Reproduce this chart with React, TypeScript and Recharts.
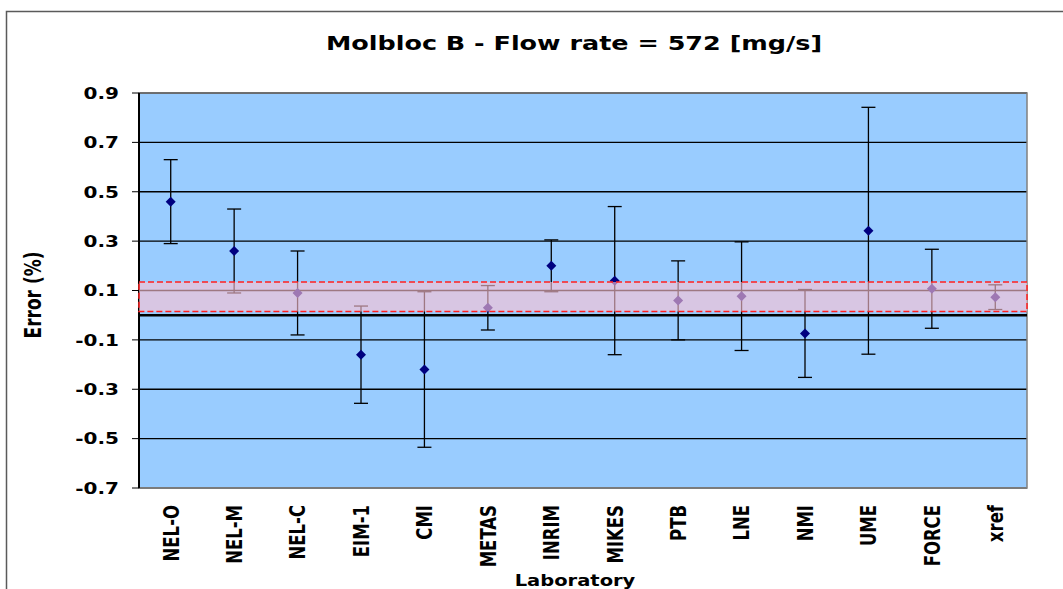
import React from 'react';
import {
  ScatterChart,
  Scatter,
  XAxis,
  YAxis,
  CartesianGrid,
  ErrorBar,
  ReferenceArea,
  ReferenceLine,
} from 'recharts';

const laboratories = ['NEL-O', 'NEL-M', 'NEL-C', 'EIM-1', 'CMI', 'METAS', 'INRIM', 'MIKES', 'PTB', 'LNE', 'NMI', 'UME', 'FORCE', 'xref'];
const errorValues = [0.46, 0.26, 0.09, -0.16, -0.22, 0.03, 0.2, 0.14, 0.06, 0.077, -0.074, 0.342, 0.107, 0.073];
const uncertainties = [0.17, 0.17, 0.17, 0.197, 0.315, 0.09, 0.105, 0.3, 0.16, 0.22, 0.178, 0.5, 0.16, 0.05];
const yTicks = [-0.7, -0.5, -0.3, -0.1, 0.1, 0.3, 0.5, 0.7, 0.9];
const yMin = -0.7;
const yMax = 0.9;
const refBandLow = 0.015;
const refBandHigh = 0.134;

const data = laboratories.map((name, i) => ({ name, value: errorValues[i], err: uncertainties[i] }));

const FONT = '"DejaVu Sans", Verdana, sans-serif';

const XTick = (props: any) => {
  const { x, y, payload } = props;
  return (
    <g transform={`translate(${x},${y}) rotate(-90) scale(1,1.33)`}>
      <text textAnchor="end" dy="0.36em" fontFamily={FONT} fontWeight="bold" fontSize={16.5} fill="#000">
        {payload.value}
      </text>
    </g>
  );
};

const YTick = (props: any) => {
  const { x, y, payload } = props;
  return (
    <g transform={`translate(${x},${y}) scale(1.25,1)`}>
      <text textAnchor="end" dy="0.36em" fontFamily={FONT} fontWeight="bold" fontSize={16} fill="#000">
        {Number(payload.value).toFixed(1)}
      </text>
    </g>
  );
};

const Diamond = (props: any) => {
  const { cx, cy } = props;
  if (cx == null || cy == null) return null;
  const r = 5;
  return <path d={`M${cx},${cy - r}L${cx + r},${cy}L${cx},${cy + r}L${cx - r},${cy}Z`} fill="#000080" />;
};

export default function App() {
  return (
    <div style={{ position: 'absolute', left: 0, top: 0, width: 1063, height: 589, overflow: 'hidden', background: '#fff' }}>
      <div style={{ position: 'absolute', left: 0, top: 0 }}>
        <ScatterChart width={1063} height={589} margin={{ top: 93, right: 36, bottom: 21, left: 60 }}>
          <CartesianGrid vertical={false} stroke="#000" strokeWidth={1.3} fill="#99CCFF" fillOpacity={1} />
          <ReferenceArea y1={yMin} y2={yMax} fill="none" stroke="#808080" strokeWidth={1.5} ifOverflow="visible" />
          <ReferenceLine y={0} stroke="#000" strokeWidth={2.5} />
          <XAxis
            dataKey="name"
            type="category"
            allowDuplicatedCategory={false}
            interval={0}
            tickLine={false}
            tickSize={0}
            tickMargin={17}
            axisLine={{ stroke: '#808080', strokeWidth: 1.5 }}
            height={80}
            tick={<XTick />}
          />
          <YAxis
            dataKey="value"
            type="number"
            domain={[yMin, yMax]}
            ticks={yTicks}
            interval={0}
            allowDataOverflow
            tickSize={7}
            tickMargin={13}
            width={79}
            axisLine={{ stroke: '#000', strokeWidth: 2 }}
            tickLine={{ stroke: '#000', strokeWidth: 1 }}
            tick={<YTick />}
          />
          <Scatter data={data} dataKey="value" fill="#000080" shape={<Diamond />} isAnimationActive={false}>
            <ErrorBar dataKey="err" direction="y" width={7} stroke="#000" strokeWidth={1.3} isAnimationActive={false} />
          </Scatter>
          <ReferenceArea
            y1={refBandLow}
            y2={refBandHigh}
            fill="#ffc2d2"
            fillOpacity={0.62}
            stroke="#ff2020"
            strokeWidth={1.5}
            strokeDasharray="6 3"
            ifOverflow="visible"
            zIndex={700}
          />
        </ScatterChart>
      </div>
      <svg width={1063} height={589} style={{ position: 'absolute', left: 0, top: 0, pointerEvents: 'none' }}>
        <rect x={6.5} y={11.5} width={1200} height={700} fill="none" stroke="#5a5a5a" strokeWidth={1.5} />
        <g transform="translate(574,50) scale(1.34,1)">
          <text textAnchor="middle" fontFamily={FONT} fontWeight="bold" fontSize={19} fill="#000">
            Molbloc B - Flow rate = 572 [mg/s]
          </text>
        </g>
        <g transform="translate(33,295) rotate(-90) scale(1,1.3)">
          <text textAnchor="middle" dy="0.36em" fontFamily={FONT} fontWeight="bold" fontSize={17} fill="#000">
            Error (%)
          </text>
        </g>
        <g transform="translate(575,586) scale(1.3,1)">
          <text textAnchor="middle" fontFamily={FONT} fontWeight="bold" fontSize={15} fill="#000">
            Laboratory
          </text>
        </g>
      </svg>
    </div>
  );
}
